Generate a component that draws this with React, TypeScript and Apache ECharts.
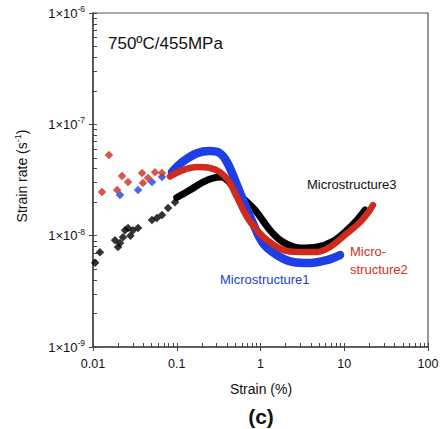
import React, { useEffect, useRef } from "react";
import * as echarts from "echarts";

const xTickValues = [0.01, 0.1, 1, 10, 100];
const xTickLabels = ["0.01", "0.1", "1", "10", "100"];
const yTickValues = [1e-9, 1e-8, 1e-7, 1e-6];
const yTickExponents = ["-9", "-8", "-7", "-6"];
const minorMultipliers = [2, 3, 4, 5, 6, 7, 8, 9];

// Microstructure3 (black)
const blackSparse: [number, number][] = [
  [0.0106, 5.7e-9], [0.0121, 7.1e-9], [0.0183, 9.1e-9], [0.0199, 7.9e-9],
  [0.021, 8.6e-9], [0.0228, 9.7e-9], [0.0241, 1.12e-8], [0.0262, 1.17e-8],
  [0.028, 1.0e-8], [0.03, 1.12e-8], [0.0345, 1.17e-8], [0.0506, 1.38e-8],
  [0.058, 1.44e-8], [0.0667, 1.53e-8], [0.0787, 1.77e-8], [0.0953, 2.0e-8],
];
const blackCurve: [number, number][] = [
  [0.1, 2.2e-8], [0.144, 2.57e-8], [0.206, 3.03e-8], [0.271, 3.29e-8],
  [0.34, 3.36e-8], [0.409, 3.1e-8], [0.6, 2.22e-8], [0.86, 1.7e-8],
  [1.3, 1.12e-8], [1.86, 8.75e-9], [2.96, 7.74e-9], [4.73, 7.9e-9],
  [7.34, 8.9e-9], [10.8, 1.12e-8], [14.2, 1.38e-8], [17.7, 1.7e-8],
];

// Microstructure1 (blue)
const blueSparse: [number, number][] = [
  [0.021, 2.32e-8], [0.0345, 2.57e-8], [0.0506, 3.03e-8], [0.0667, 3.36e-8],
];
const blueCurve: [number, number][] = [
  [0.0877, 3.72e-8], [0.117, 4.6e-8], [0.1745, 5.5e-8], [0.249, 5.75e-8],
  [0.328, 5.5e-8], [0.398, 4.58e-8], [0.496, 3.16e-8], [0.618, 2.09e-8],
  [0.81, 1.3e-8], [1.07, 8.57e-9], [1.57, 6.7e-9], [2.44, 5.8e-9],
  [3.9, 5.68e-9], [6.22, 6.04e-9], [8.9, 6.7e-9],
];

// Microstructure2 (red)
const redSparse: [number, number][] = [
  [0.0128, 2.47e-8], [0.0155, 5.3e-8], [0.0194, 2.57e-8], [0.0222, 3.43e-8],
  [0.0262, 3.03e-8], [0.0385, 3.65e-8], [0.0395, 2.97e-8], [0.0454, 3.29e-8],
  [0.055, 3.72e-8], [0.0667, 3.65e-8],
];
const redCurve: [number, number][] = [
  [0.083, 3.4e-8], [0.119, 3.88e-8], [0.1745, 4.13e-8], [0.249, 4.05e-8],
  [0.328, 3.72e-8], [0.409, 3.16e-8], [0.524, 2.22e-8], [0.69, 1.47e-8],
  [0.908, 1.12e-8], [1.2, 9.12e-9], [1.86, 7.43e-9], [2.96, 7.13e-9],
  [4.73, 7.13e-9], [6.76, 7.9e-9], [10.8, 1.05e-8], [15.4, 1.32e-8],
  [20.3, 1.7e-8], [22, 1.88e-8],
];

const FONT = "'Liberation Sans', Arial, Helvetica, sans-serif";
const AXIS = "#444";

function minorTicks(majors: number[]) {
  const out: number[] = [];
  majors.forEach((m, i) => {
    out.push(m);
    if (i < majors.length - 1) minorMultipliers.forEach((k) => out.push(m * k));
  });
  return out;
}

function findIdx(arr: number[], v: number) {
  return arr.findIndex((t) => Math.abs(Math.log10(t) - Math.log10(v)) < 1e-6);
}

export default function App() {
  const ref = useRef<HTMLDivElement>(null);
  useEffect(() => {
    document.body.style.margin = "0";
    const chart = echarts.init(ref.current!, null, { renderer: "svg" });
    const xMinor = minorTicks(xTickValues);
    const yMinor = minorTicks(yTickValues);
    const curve = (name: string, data: [number, number][], color: string, width: number) => ({
      name, type: "line", data, symbol: "none", showSymbol: false, smooth: 0.35,
      lineStyle: { color, width, cap: "round", join: "round" },
    });
    const dots = (name: string, data: [number, number][], color: string) => ({
      name, type: "scatter", data, symbol: "diamond", symbolSize: 8.5,
      itemStyle: { color },
    });
    chart.setOption({
      animation: false,
      grid: {
        left: 93, right: 13, top: 13, bottom: 82,
        show: true, borderColor: "#555", borderWidth: 1.2,
        containLabel: false, outerBoundsMode: "none",
      },
      xAxis: [
        {
          type: "log", logBase: 10, min: 0.01, max: 100,
          axisLine: { lineStyle: { color: AXIS, width: 1.5 } },
          axisTick: { inside: true, length: 4, customValues: xMinor, lineStyle: { color: AXIS } },
          axisLabel: {
            customValues: xTickValues, margin: 10, fontSize: 12.5, fontFamily: FONT, color: "#111",
            formatter: (v: number) => { const i = findIdx(xTickValues, v); return i >= 0 ? xTickLabels[i] : ""; },
          },
          splitLine: { show: false },
        },
        {
          type: "log", logBase: 10, min: 0.01, max: 100, position: "bottom", gridIndex: 0,
          axisLine: { show: false },
          axisTick: { inside: false, length: 4, customValues: xTickValues, lineStyle: { color: AXIS } },
          axisLabel: { show: false }, splitLine: { show: false },
        },
      ],
      yAxis: [
        {
          type: "log", logBase: 10, min: 1e-9, max: 1e-6,
          axisLine: { lineStyle: { color: AXIS, width: 1.5 } },
          axisTick: { inside: true, length: 4, customValues: yMinor, lineStyle: { color: AXIS } },
          axisLabel: {
            customValues: yTickValues, margin: 8, fontSize: 13, fontFamily: FONT, color: "#111",
            formatter: (v: number) => { const i = findIdx(yTickValues, v); return i >= 0 ? "1×10{sup|" + yTickExponents[i] + "}" : ""; },
            rich: {
              sup: { fontSize: 8.5, fontFamily: FONT, color: "#111", verticalAlign: "top", padding: [0, 0, 8, 0] },
            },
          },
          splitLine: { show: false },
        },
        {
          type: "log", logBase: 10, min: 1e-9, max: 1e-6, position: "left", gridIndex: 0,
          axisLine: { show: false },
          axisTick: { inside: false, length: 4, customValues: yTickValues, lineStyle: { color: AXIS } },
          axisLabel: { show: false }, splitLine: { show: false },
        },
      ],
      series: [
        curve("Microstructure3", blackCurve, "#000000", 7),
        dots("Microstructure3 sparse", blackSparse, "#000000"),
        curve("Microstructure1", blueCurve, "#1f3fe6", 8.5),
        dots("Microstructure1 sparse", blueSparse, "#1f3fe6"),
        curve("Microstructure2", redCurve, "#d02a1c", 6.5),
        dots("Microstructure2 sparse", redSparse, "#d02a1c"),
      ],
      graphic: [
        { type: "text", x: 108, y: 43, style: { text: "750ºC/455MPa", fontSize: 17, fontFamily: FONT, fill: "#111", verticalAlign: "middle" } },
        { type: "text", x: 307, y: 184, style: { text: "Microstructure3", fontSize: 13, fontFamily: FONT, fill: "#111", verticalAlign: "middle" } },
        { type: "text", x: 350, y: 251, style: { text: "Micro-", fontSize: 13, fontFamily: FONT, fill: "#d0321e", verticalAlign: "middle" } },
        { type: "text", x: 350, y: 269, style: { text: "structure2", fontSize: 13, fontFamily: FONT, fill: "#d0321e", verticalAlign: "middle" } },
        { type: "text", x: 220, y: 279, style: { text: "Microstructure1", fontSize: 13, fontFamily: FONT, fill: "#2040d8", verticalAlign: "middle" } },
        { type: "text", x: 261, y: 389, style: { text: "Strain (%)", fontSize: 14, fontFamily: FONT, fill: "#111", align: "center", verticalAlign: "middle" } },
        { type: "text", x: 261, y: 416, style: { text: "(c)", fontSize: 21, fontWeight: "bold", fontFamily: FONT, fill: "#111", align: "center", verticalAlign: "middle" } },
        {
          type: "text", x: 22, y: 176, rotation: Math.PI / 2,
          style: {
            text: "Strain rate (s{sup|-1})", fontSize: 14, fontFamily: FONT, fill: "#111", align: "center", verticalAlign: "middle",
            rich: { sup: { fontSize: 9, fontFamily: FONT, fill: "#111", verticalAlign: "top", padding: [0, 0, 8, 0] } },
          },
        },
      ],
    });
    return () => chart.dispose();
  }, []);
  return <div ref={ref} style={{ width: 441, height: 429 }} />;
}
